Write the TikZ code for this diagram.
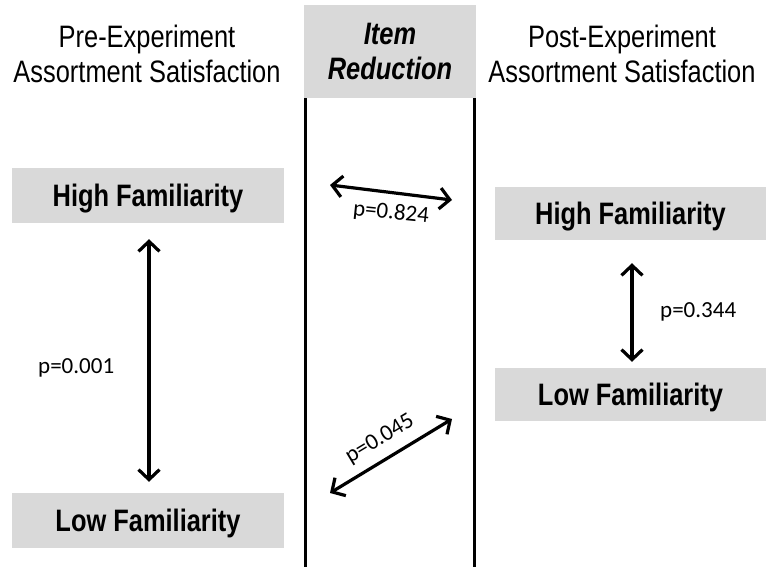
\documentclass[tikz,border=0pt]{standalone}
\usepackage{fontspec}
\setmainfont{Liberation Sans}[FakeStretch=0.82]
\newfontfamily\pfont{Carlito}
\usetikzlibrary{arrows.meta,calc}
\definecolor{boxgray}{HTML}{D9D9D9}
\begin{document}
\begin{tikzpicture}[x=1pt,y=-1pt,
  hdr/.style={font=\fontsize{31}{35}\selectfont, align=center, inner sep=0pt, anchor=north},
  fambox/.style={fill=boxgray, minimum width=272pt, minimum height=55pt, inner sep=0pt,
    font=\fontsize{31}{35}\selectfont\bfseries, text height=22pt, text depth=0pt},
  dbl/.style={line width=3.2pt,
    {Straight Barb[length=10pt,width=21pt]}-{Straight Barb[length=10pt,width=21pt]}},
  plabel/.style={font=\pfont\fontsize{23}{27}\selectfont, inner sep=0pt},
  divider/.style={line width=3pt}]
\useasboundingbox (0,0) rectangle (768,567);

% column headings
\node[hdr] (pre) at (147,25) {Pre-Experiment\\Assortment Satisfaction};
\node[hdr] (post) at (622,25) {Post-Experiment\\Assortment Satisfaction};
\node[fill=boxgray, minimum width=172pt, minimum height=93pt, inner sep=0pt, align=center,
  font=\fontsize{31}{35}\selectfont\bfseries\itshape] (item) at (390,51.5) {Item\\Reduction};

% dividers of the middle column
\coordinate (bottom) at (390,567);
\coordinate (dl) at ($(item.south west)+(2,0)$);
\coordinate (dr) at ($(item.south east)+(-2,0)$);
\draw[divider] (dl) -- (dl |- bottom);
\draw[divider] (dr) -- (dr |- bottom);

% familiarity boxes
\node[fambox] (preHigh) at (148,195.5) {High Familiarity};
\node[fambox] (preLow) at (148,520.5) {Low Familiarity};
\node[fambox, minimum width=271pt, minimum height=53pt] (postHigh) at (630.5,213.5) {High Familiarity};
\node[fambox, minimum width=271pt, minimum height=53pt] (postLow) at (630.5,394.5) {Low Familiarity};

% within-group comparisons
\draw[dbl] ($(preHigh.south)+(1,16)$) -- ($(preLow.north)+(1,-11)$);
\node[plabel, anchor=base west] (p001) at (38,373) {p=0.001};
\draw[dbl] ($(postHigh.south)+(1.5,23)$) -- ($(postLow.north)+(1.5,-6)$);
\node[plabel, anchor=base west] (p344) at (660,317) {p=0.344};

% across-group comparisons
\coordinate (hiL) at (330,185);
\coordinate (hiR) at (452,200);
\draw[dbl] (hiL) -- (hiR);
\node[plabel, rotate=-6] (p824) at (391,213) {p=0.824};
\coordinate (loL) at (330,493);
\coordinate (loR) at (452,419);
\draw[dbl] (loL) -- (loR);
\node[plabel, rotate=31] (p045) at (380,439) {p=0.045};
\end{tikzpicture}
\end{document}
